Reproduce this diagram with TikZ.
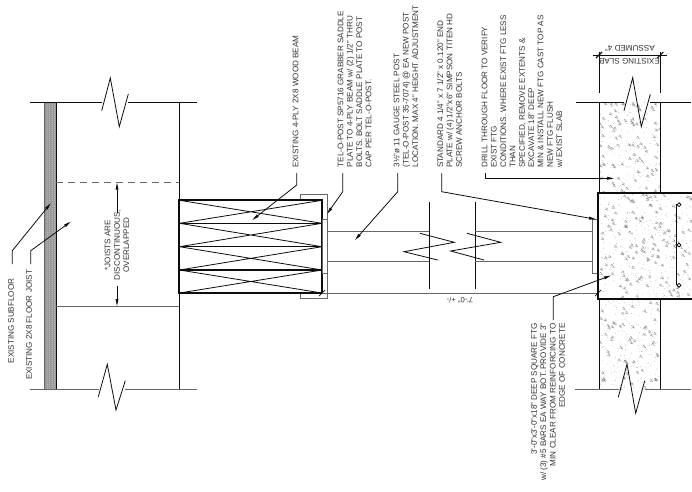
\documentclass[tikz,border=0pt]{standalone}
\usepackage{fontspec}
\setmainfont{Liberation Sans}
\usetikzlibrary{arrows.meta}
\definecolor{ink}{gray}{0.05}
\definecolor{midg}{gray}{0.4}
\definecolor{speck}{gray}{0.55}
\tikzset{
 lbl/.style={font=\fontsize{8.1}{9.35}\selectfont,text=black!80,inner sep=0pt,rotate=90,anchor=north west,align=left},
 lblr/.style={font=\fontsize{8.1}{9.35}\selectfont,text=black!80,inner sep=0pt,rotate=90,anchor=north east,align=right},
 lblc/.style={font=\fontsize{8.1}{9.35}\selectfont,text=black!80,inner sep=0pt,rotate=90,align=center},
 lblf/.style={font=\fontsize{8.1}{9.35}\selectfont,text=black!80,inner sep=0pt,rotate=180},
 wall/.style={draw=ink,line width=1pt},
 thin/.style={draw=ink,line width=0.8pt},
 grayln/.style={draw=midg,line width=1pt},
 heavy/.style={draw=ink,line width=2.2pt},
 leader/.style={draw=ink,line width=0.8pt,-{Stealth[length=7pt,width=2.8pt,inset=0pt]}},
}
\newcommand{\speckles}[6]{%
 \pgfmathsetseed{#6}%
 \foreach \i in {1,...,#5}{%
  \pgfmathsetmacro{\px}{#1+rnd*#3}\pgfmathsetmacro{\py}{#2+rnd*#4}%
  \pgfmathsetmacro{\kk}{rnd}%
  \pgfmathparse{\kk<0.3 ? 1 : 0}%
  \ifnum\pgfmathresult=1
   \fill[speck] (\px,\py) circle (0.55);
   \fill[speck] (\px+1,\py+0.6) circle (0.5);
   \fill[speck] (\px+0.6,\py+1.6) circle (0.6);
   \fill[speck] (\px-0.7,\py+1.4) circle (0.45);
   \fill[speck] (\px+1.7,\py+2.1) circle (0.45);
  \else
   \fill[speck!75] (\px,\py) circle (0.4);
  \fi
 }}
\begin{document}
\begin{tikzpicture}[x=1pt,y=-1pt]
\useasboundingbox (0,0) rectangle (692,491);
\fill[white] (0,0) rectangle (692,491);
% left joist elevation
\fill[gray!80] (44.3,102.5) rectangle (56.3,389);
\begin{scope}
\clip (44.3,102.5) rectangle (56.3,389);
\foreach \yy in {104,106,...,388} \draw[gray!55,line width=0.4pt,dotted] (44.3,\yy) -- (56.3,\yy);
\end{scope}
\draw[midg,line width=0.8pt] (44.3,102.5) -- (44.3,389);
\draw[wall] (56.3,102.5) -- (56.3,389);
\draw[wall] (30,102.5) -- (101.7,102.5) (128.3,102.5) -- (197,102.5);
\draw[thin] (101.7,110.7) -- (110.3,78) -- (119.3,126.7) -- (128.3,94);
\draw[grayln] (30,389) -- (98.5,389) (125.3,389) -- (197,389);
\draw[thin] (98.3,396.7) -- (107.3,364.3) -- (116,410) -- (125.3,380.7);
\draw[wall] (179.3,102.5) -- (179.3,389);
\draw[midg,line width=1pt,dash pattern=on 7pt off 5pt] (56.3,182.7) -- (179.3,182.7);
\draw[grayln] (56.3,306) -- (179.3,306);
\node[lblc] (joistnote) at (117,245) {*JOISTS ARE\\DISCONTINUOUS,\\OVERLAPPED};
\coordinate (dimtop) at (117,182.7);
\coordinate (dimbot) at (117,306);
\draw[leader] (117,213) -- (dimtop);
\draw[leader] (117,285.7) -- (dimbot);
\node[lbl] (subfloor) at (8,363.5) {EXISTING SUBFLOOR};
\node[lbl] (joist) at (26,380) {EXISTING 2X8 FLOOR JOIST};
\coordinate (subA) at (12.3,264);\coordinate (subT) at (50.7,203.3);
\coordinate (joiA) at (30.7,264);\coordinate (joiT) at (70.7,221.7);
\draw[leader] (subA) -- (12.3,250.7) -- (subT);
\draw[leader] (joiA) -- (30.7,250.7) -- (joiT);
% saddle
\draw[midg,line width=1pt] (300,200) |- (327.2,194.7) |- (300,298.3) -- (300,293);
% beam
\draw[thin] (179.5,200.3) -- (322,223.3) (179.5,223.3) -- (322,200.3);
\draw[thin] (179.5,223.3) -- (322,246.7) (179.5,246.7) -- (322,223.3);
\draw[thin] (179.5,246.7) -- (322,270) (179.5,270) -- (322,246.7);
\draw[thin] (179.5,270) -- (322,293) (179.5,293) -- (322,270);
\draw[draw=ink,line width=0.9pt] (179.5,223.3) -- (322,223.3);
\draw[draw=ink,line width=1.4pt] (179.5,246.7) -- (322,246.7) (179.5,270) -- (322,270);
\draw[heavy] (179.2,200.3) rectangle (322.3,293);
% plate
\draw[midg,line width=1pt] (322.3,219.3) rectangle (327.3,273.3);
% post
\draw[grayln] (327.3,231.3) -- (429.3,231.3) (327.3,261.7) -- (429.3,261.7);
\draw[thin] (429.3,201.7) -- (429.3,289.3);
\draw[thin] (420,233.3) -- (454.3,242.3) -- (404,251.7) -- (437.7,260);
\draw[thin] (467,233.3) -- (500.7,242.3) -- (450.7,251) -- (484,260);
\draw[thin] (475.3,201.7) -- (475.3,289.3);
\draw[grayln] (475.3,231.3) -- (592.3,231.3) (475.3,261.7) -- (592.3,261.7);
\draw[midg,line width=1pt] (592.3,219.3) rectangle (598,273.3);
\draw[midg,line width=1pt] (322,293) -- (598,293);
\draw[ink,line width=0.7pt] (319,296) -- (325,290);
\draw[ink,line width=0.7pt] (595,296) -- (601,290);
\node[lblf,font=\fontsize{7.6}{9}\selectfont] (seven) at (460,300.3) {7'-0" +/-};
% slab
\begin{scope}
\clip (599,102.3) rectangle (660.3,192.7);
\speckles{599}{102.3}{61.3}{90.4}{230}{11}
\end{scope}
\begin{scope}
\clip (599,299.3) rectangle (660.3,389);
\speckles{599}{299.3}{61.3}{89.7}{230}{23}
\end{scope}
\begin{scope}
\clip (598.3,192.7) rectangle (692,299.3);
\speckles{598.3}{192.7}{93.7}{106.6}{420}{37}
\end{scope}
\draw[wall] (599,102.3) -- (599,192.7) (660.3,102.3) -- (660.3,192.7);
\draw[wall] (599,299.3) -- (599,389) (660.3,299.3) -- (660.3,389);
\draw[wall] (575.7,102.3) -- (624,102.3) (650.3,102.3) -- (690.7,102.3);
\draw[thin] (624,110.7) -- (632.7,77.7) -- (641.3,126.7) -- (650.3,94.3);
\draw[grayln] (575,389) -- (618.5,389) (644.7,389) -- (691,389);
\draw[thin] (618.3,397.3) -- (627,364) -- (635.7,413.3) -- (644.7,380.7);
% footing
\draw[heavy] (692.5,192.7) -- (598.3,192.7) -- (598.3,299.3) -- (692.5,299.3);
\draw[draw=ink,line width=1pt] (676,204) -- (676,285);
\foreach \yy/\nm in {204.7/ra,245/rb,285.3/rc}
 \node[draw=ink,fill=white,circle,inner sep=0pt,minimum size=3.8pt,line width=0.8pt] (\nm) at (679,\yy) {};
% slab dim
\draw[thin] (599,51.7) -- (599,93.3) (660.3,51.7) -- (660.3,93.3);
\draw[thin] (592.7,55) -- (666.7,55);
\draw[ink,line width=1.1pt] (596,58) -- (602,52) (657.3,58) -- (663.3,52);
\node[lblf] (assumed) at (630,48.7) {ASSUMED 4"};
\node[lblf] (exslab) at (629.5,61.7) {EXISTING SLAB};
% top notes
\node[lbl] (nbeam) at (292.5,168) {EXISTING 4-PLY 2X8 WOOD BEAM};
\node[lbl] (nsaddle) at (337.5,167.5) {TEL-O-POST SP5716 GRABBER SADDLE\\PLATE TO 4-PLY BEAM w/ (2) 1/2" THRU\\BOLTS. BOLT SADDLE PLATE TO POST\\CAP PER TEL-O-POST.};
\node[lbl] (npost) at (393.5,167.5) {3\textonehalf"ø 11 GAUGE STEEL POST\\(TEL-O-POST 35-7074) @ EA NEW POST\\LOCATION. MAX 4" HEIGHT ADJUSTMENT};
\node[lbl] (nplate) at (437,168) {STANDARD 4 1/4" x 7 1/2" x 0.120" END\\PLATE w/ (4) 1/2"x6" SIMPSON TITEN HD\\SCREW ANCHOR BOLTS};
\node[lbl] (ndrill) at (481.5,168) {DRILL THROUGH FLOOR TO VERIFY\\EXIST FTG\\CONDITIONS. WHERE EXIST FTG LESS\\THAN\\SPECIFIED, REMOVE EXTENTS \&\\EXCAVATE 18" DEEP\\MIN \& INSTALL NEW FTG CAST TOP AS\\NEW FTG FLUSH\\w/ EXIST SLAB};
\node[lblr] (nftg) at (531,323.3) {3'-0"x3'-0"x18" DEEP SQUARE FTG\\w/ (3) \#5 BARS EA WAY BOT. PROVIDE 3"\\MIN CLEAR FROM REINFORCING TO\\EDGE OF CONCRETE};
\coordinate (lb0) at (296.7,173);\coordinate (lb1) at (252.3,220);
\coordinate (ls0) at (342.7,173);\coordinate (ls1) at (327,214);
\coordinate (lp0) at (397.7,173);\coordinate (lp1) at (355,240);
\coordinate (lt0) at (441.7,173);\coordinate (lt1) at (596,219.3);
\coordinate (ld0) at (485.3,173);\coordinate (ld1) at (614,178.3);
\coordinate (lf0) at (553.3,320);\coordinate (lf1) at (611,275.5);
\draw[leader] (lb0) -- (296.7,185) -- (lb1);
\draw[leader] (ls0) -- (342.7,191.7) -- (ls1);
\draw[leader] (lp0) -- (397.7,191.7) -- (lp1);
\draw[leader] (lt0) -- (441.7,191.7) -- (lt1);
\draw[leader] (ld0) -- (485.3,178.3) -- (ld1);
\draw[leader] (lf0) -- (553.3,296.7) -- (lf1);
\end{tikzpicture}
\end{document}
